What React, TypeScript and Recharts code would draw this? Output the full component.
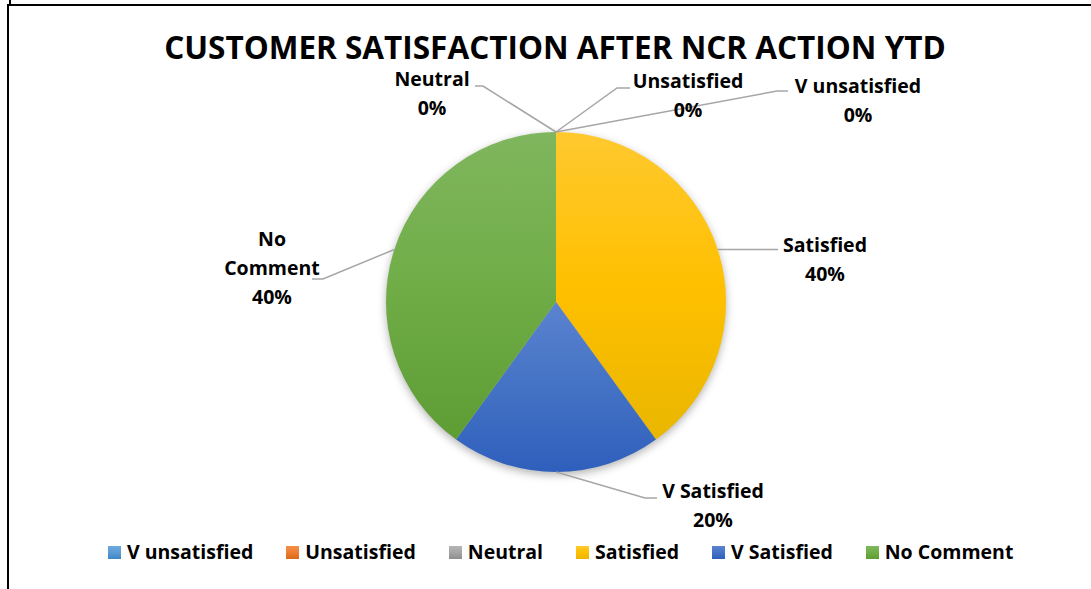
import React from 'react';
import { PieChart, Pie, Cell, Legend } from 'recharts';

// ---------- data ----------
const TITLE = 'CUSTOMER SATISFACTION AFTER NCR ACTION YTD';
const CATEGORIES = ['V unsatisfied', 'Unsatisfied', 'Neutral', 'Satisfied', 'V Satisfied', 'No Comment'];
const SHARES = [0, 0, 0, 40, 20, 40];

// ---------- styles ----------
const BASE_COLORS = ['#5B9BD5', '#ED7D31', '#A5A5A5', '#FFC000', '#4472C4', '#70AD47'];
const TOP_COLORS = ['#6ea9de', '#f58f4a', '#b5b5b5', '#ffc92f', '#5b83d0', '#80b65e'];
const BOTTOM_COLORS = ['#3f86c6', '#d96a1a', '#8e8e8e', '#e9b600', '#2e5fbc', '#5e9c34'];
const FONT = '"Open Sans", "Noto Sans", sans-serif';
const LABEL_SIZE = 19.5;
const LINE_COLOR = '#a6a6a6';

// label layout, relative to pie centre (px)
type Layout = { elbow?: [number, number]; endX: number; textX: number; baselines: number[]; wrap?: boolean };
const LABEL_LAYOUT: Record<string, Layout> = {
  'V unsatisfied': { elbow: [221, -211], endX: 232, textX: 302, baselines: [-209, -180] },
  'Unsatisfied': { elbow: [61, -214], endX: 74, textX: 132, baselines: [-214, -185] },
  'Neutral': { elbow: [-73, -216], endX: -81, textX: -124, baselines: [-216, -187] },
  'Satisfied': { endX: 222, textX: 269, baselines: [-50, -21] },
  'V Satisfied': { elbow: [89, 196], endX: 101, textX: 157, baselines: [196, 225] },
  'No Comment': { elbow: [-233, -23], endX: -244, textX: -284, baselines: [-56, -27, 2], wrap: true },
};

const data = CATEGORIES.map((name, i) => ({ name, value: SHARES[i] }));
const RAD = Math.PI / 180;

const renderLabel = (props: any) => {
  const { cx, cy, midAngle, outerRadius, percent, name } = props;
  const lay = LABEL_LAYOUT[name];
  if (!lay) return null;
  const sx = cx + outerRadius * Math.cos(-midAngle * RAD);
  const sy = cy + outerRadius * Math.sin(-midAngle * RAD);
  const pts: [number, number][] = [[sx, sy]];
  let ey = sy;
  if (lay.elbow) {
    pts.push([cx + lay.elbow[0], cy + lay.elbow[1]]);
    ey = cy + lay.elbow[1];
  }
  pts.push([cx + lay.endX, ey]);
  const lines = lay.wrap ? name.split(' ') : [name];
  lines.push(`${Math.round((percent || 0) * 100)}%`);
  return (
    <g>
      <polyline points={pts.map((p) => p.join(',')).join(' ')} fill="none" stroke={LINE_COLOR} strokeWidth={1.5} />
      <text textAnchor="middle" fontFamily={FONT} fontWeight={700} fontSize={LABEL_SIZE} fill="#000">
        {lines.map((l, i) => (
          <tspan key={i} x={cx + lay.textX} y={cy + lay.baselines[i]}>
            {l}
          </tspan>
        ))}
      </text>
    </g>
  );
};

const renderLegend = () => (
  <div style={{ display: 'flex', alignItems: 'center', paddingLeft: 108, fontFamily: FONT, fontWeight: 700, fontSize: LABEL_SIZE, color: '#000' }}>
    {CATEGORIES.map((c, i) => (
      <div key={c} style={{ display: 'flex', alignItems: 'center', marginRight: 33 }}>
        <span
          style={{
            width: 13,
            height: 13,
            marginRight: 6,
            display: 'inline-block',
            background: `linear-gradient(${TOP_COLORS[i]}, ${BASE_COLORS[i]}, ${BOTTOM_COLORS[i]})`,
          }}
        />
        <span style={{ whiteSpace: 'nowrap', lineHeight: '26px' }}>{c}</span>
      </div>
    ))}
  </div>
);

export default function App() {
  return (
    <div style={{ position: 'absolute', left: 0, top: 0, width: 1091, height: 589, background: '#fff', overflow: 'hidden' }}>
      <div style={{ position: 'absolute', left: 9, top: 0, width: 2, height: 5, background: '#000' }} />
      <div style={{ position: 'absolute', left: 7, top: 4, width: 1084, height: 2, background: '#000' }} />
      <div style={{ position: 'absolute', left: 7, top: 4, width: 2, height: 585, background: '#000' }} />
      <div style={{ position: 'absolute', left: 0, top: 0 }}>
        <PieChart width={1091} height={589} margin={{ top: 0, right: 0, bottom: 0, left: 0 }}>
          <defs>
            {CATEGORIES.map((c, i) => (
              <linearGradient key={c} id={`grad${i}`} x1="0" y1="0" x2="0" y2="1">
                <stop offset="0%" stopColor={TOP_COLORS[i]} />
                <stop offset="50%" stopColor={BASE_COLORS[i]} />
                <stop offset="100%" stopColor={BOTTOM_COLORS[i]} />
              </linearGradient>
            ))}
            <filter id="pieShadow" x="-20%" y="-20%" width="140%" height="140%">
              <feGaussianBlur stdDeviation="4" />
            </filter>
          </defs>
          <text x={555} y={59} textAnchor="middle" fontFamily={FONT} fontWeight={700} fontSize={31.5} fill="#000">
            {TITLE}
          </text>
          <Pie
            data={data}
            dataKey="value"
            nameKey="name"
            cx={556}
            cy={305}
            outerRadius={170}
            startAngle={90}
            endAngle={-270}
            stroke="none"
            isAnimationActive={false}
            legendType="none"
            label={false}
            labelLine={false}
          >
            {data.map((d) => (
              <Cell key={d.name} fill="#000" fillOpacity={0.3} filter="url(#pieShadow)" stroke="none" />
            ))}
          </Pie>
          <Pie
            data={data}
            dataKey="value"
            nameKey="name"
            cx={556}
            cy={302}
            outerRadius={170}
            startAngle={90}
            endAngle={-270}
            stroke="none"
            isAnimationActive={false}
            label={renderLabel}
            labelLine={false}
          >
            {data.map((d, i) => (
              <Cell key={d.name} fill={`url(#grad${i})`} stroke="none" />
            ))}
          </Pie>
          <Legend content={renderLegend} wrapperStyle={{ left: 0, top: 539, width: 1091 }} />
        </PieChart>
      </div>
    </div>
  );
}
